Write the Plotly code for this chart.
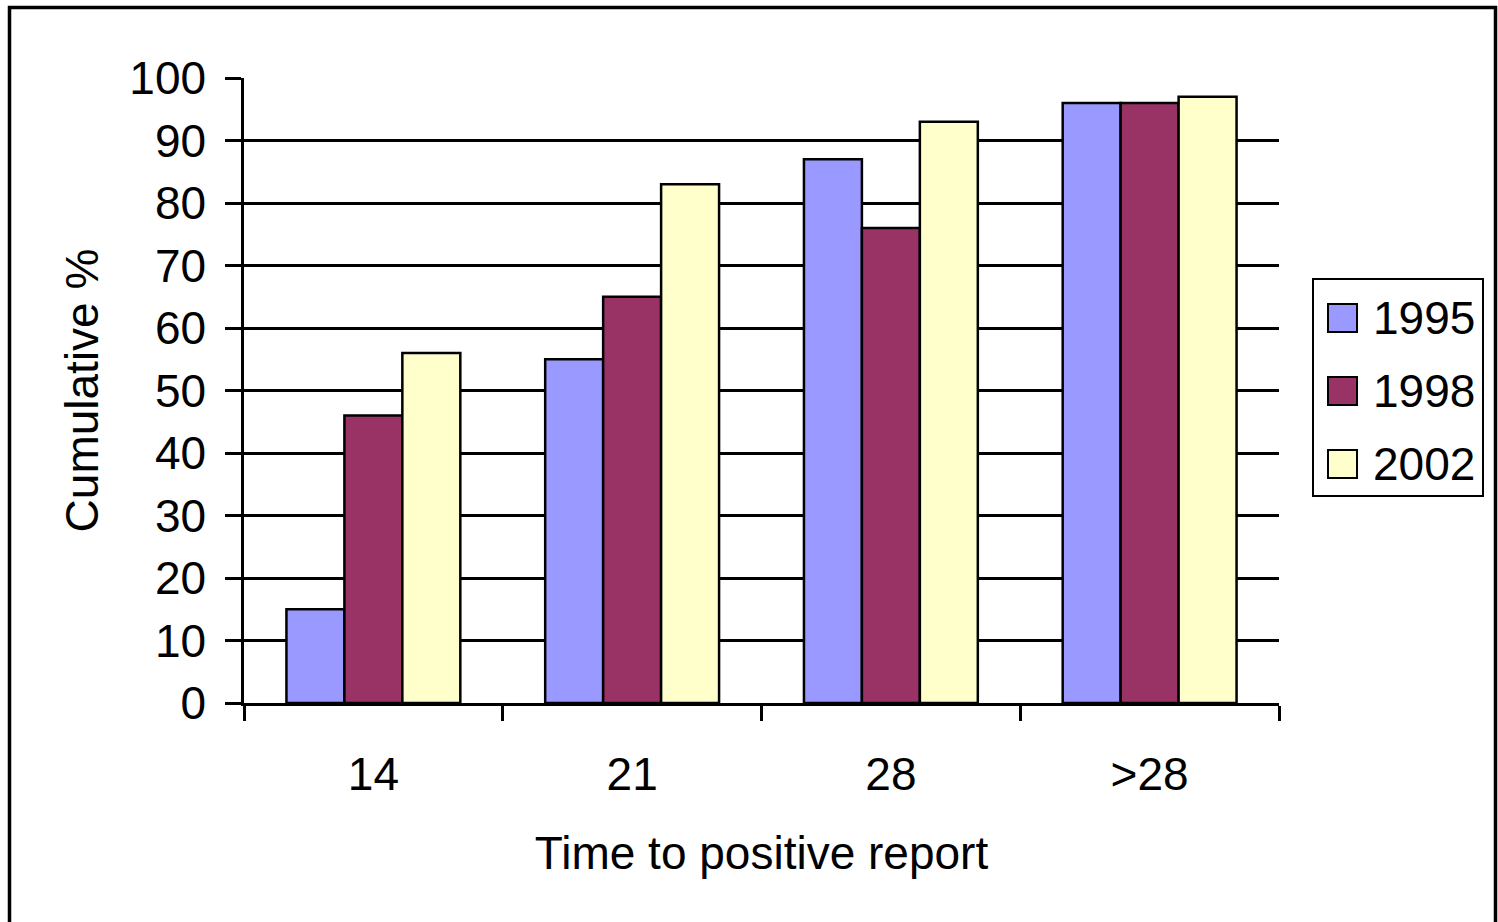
import plotly.graph_objects as go

categories = ["14", "21", "28", ">28"]
series_names = ["1995", "1998", "2002"]
values_1995 = [15, 55, 87, 96]
values_1998 = [46, 65, 76, 96]
values_2002 = [56, 83, 93, 97]
series_values = [values_1995, values_1998, values_2002]
colors = ["#9999FF", "#993366", "#FFFFCC"]

W, H = 1498, 922
L, R, T, B = 244, 1279, 78, 703
FONT = "Liberation Sans, Arial, sans-serif"
FS = 46

def px(x):
    return (x - L) / (R - L)

def py(y):
    return (B - y) / (B - T)

fig = go.Figure()
for name, vals, col in zip(series_names, series_values, colors):
    fig.add_trace(go.Bar(
        x=categories, y=vals, name=name, showlegend=False,
        marker=dict(color=col, line=dict(color="black", width=2.5)),
    ))

shapes = []
annotations = []
# outer border
shapes.append(dict(type="rect", xref="paper", yref="paper",
                   x0=px(9.5), x1=px(1495.5), y0=py(935), y1=py(7.5),
                   line=dict(color="black", width=3.5), fillcolor="rgba(0,0,0,0)", layer="below"))
# legend box
shapes.append(dict(type="rect", xref="paper", yref="paper",
                   x0=px(1313), x1=px(1483), y0=py(496), y1=py(279),
                   line=dict(color="black", width=2), fillcolor="white"))
for i, (name, col) in enumerate(zip(series_names, colors)):
    top = 304 + i * 73
    shapes.append(dict(type="rect", xref="paper", yref="paper",
                       x0=px(1328), x1=px(1357), y0=py(top + 28), y1=py(top),
                       line=dict(color="black", width=2), fillcolor=col))
    annotations.append(dict(text=name, xref="paper", yref="paper",
                            x=px(1371), y=py(top + 14), xanchor="left", yanchor="middle",
                            showarrow=False, font=dict(family=FONT, size=FS, color="black")))

fig.update_layout(
    width=W, height=H,
    margin=dict(l=L, r=W - R, t=T, b=H - B, pad=0),
    paper_bgcolor="white", plot_bgcolor="white",
    barmode="group", bargap=0.328, bargroupgap=0,
    font=dict(family=FONT, size=FS, color="black"),
    shapes=shapes, annotations=annotations,
    showlegend=False,
)
fig.update_xaxes(
    type="category", tickson="boundaries", ticks="outside", ticklen=15, tickwidth=2.5,
    tickcolor="black", showline=True, linecolor="black", linewidth=2.5,
    showgrid=False, tickfont=dict(size=FS), ticklabelstandoff=29,
    title=dict(text="Time to positive report", font=dict(size=FS), standoff=38),
)
fig.update_yaxes(
    range=[0, 100], dtick=10, ticks="outside", ticklen=16, tickwidth=2.5, tickcolor="black",
    showline=True, linecolor="black", linewidth=2.5,
    showgrid=True, gridcolor="black", gridwidth=2.5, zeroline=False,
    tickfont=dict(size=FS), ticklabelstandoff=10,
    title=dict(text="Cumulative %", font=dict(size=FS), standoff=17),
)
fig.write_html(
    "out.html",
    config={"displayModeBar": False},
    post_script="document.body.style.margin='0';document.body.style.overflow='hidden';",
)
